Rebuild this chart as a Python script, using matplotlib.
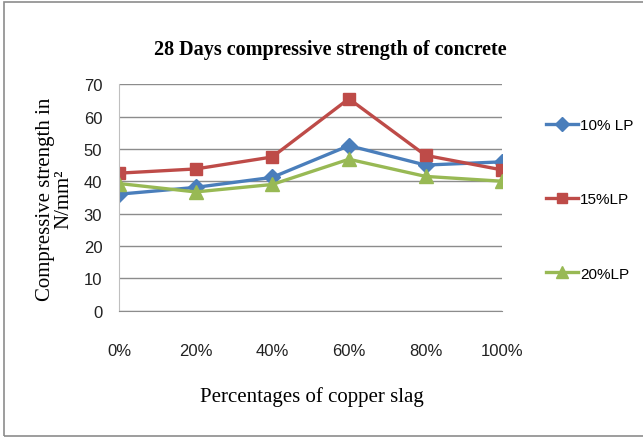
import matplotlib.pyplot as plt
from matplotlib.patches import Rectangle

# 28 day compressive strength (N/mm2) vs copper slag replacement
slag = ['0%', '20%', '40%', '60%', '80%', '100%']
lp10 = [36.0, 38.1, 41.2, 51.0, 45.0, 46.0]
lp15 = [42.5, 43.8, 47.5, 65.5, 48.0, 43.5]
lp20 = [39.3, 36.7, 39.0, 46.8, 41.5, 40.0]

series = [
    ('10% LP', lp10, '#4A7EBB', 'D', 8),
    ('15%LP', lp15, '#BE4B48', 's', 9),
    ('20%LP', lp20, '#98B954', '^', 10),
]

fig = plt.figure(figsize=(6.43, 4.39), dpi=100)
fig.patches.append(Rectangle((0.006, 0.004), 1.2, 0.99, transform=fig.transFigure,
                             fill=False, edgecolor='#8c8c8c', linewidth=1.2))

ax = fig.add_axes([0.185, 0.290, 0.596, 0.516])
x = list(range(len(slag)))
handles = []
for name, vals, col, mk, ms in series:
    h, = ax.plot(x, vals, color=col, linewidth=2.4, marker=mk, markersize=ms,
                 markeredgecolor=col, label=name)
    handles.append(h)

ax.set_xlim(0, 5)
ax.set_ylim(0, 70)
ax.set_yticks(range(0, 71, 10))
ax.set_xticks(x)
ax.set_xticklabels(slag)
ax.yaxis.grid(True, color='#8c8c8c', linewidth=1)
ax.set_axisbelow(True)
for s in ['top', 'right']:
    ax.spines[s].set_visible(False)
ax.spines['left'].set_color('#bfbfbf')
ax.spines['bottom'].set_color('#8c8c8c')
ax.tick_params(axis='both', length=0, labelsize=12, colors='#222222')
ax.tick_params(axis='x', pad=23)
ax.tick_params(axis='y', pad=12)
for lb in ax.get_xticklabels() + ax.get_yticklabels():
    lb.set_fontfamily('Liberation Sans')

fig.text(0.513, 0.885, '28 Days compressive strength of concrete', fontfamily='Liberation Serif',
         fontweight='bold', fontsize=14.5, ha='center', va='center')
fig.text(0.485, 0.095, 'Percentages of copper slag', fontfamily='Liberation Serif',
         fontsize=15, ha='center', va='center')
fig.text(0.085, 0.545, 'Compressive strength in\nN/mm²', fontfamily='Liberation Serif',
         fontsize=15, ha='center', va='center', rotation=90, linespacing=1.0)

fig.legend(handles=handles, loc='upper left', bbox_to_anchor=(0.828, 0.760),
           frameon=False, labelspacing=3.95, handlelength=2.1, handletextpad=0.12,
           prop={'family': 'Liberation Sans', 'size': 11}, markerscale=0.85)

fig.savefig('out.png', dpi=100)
